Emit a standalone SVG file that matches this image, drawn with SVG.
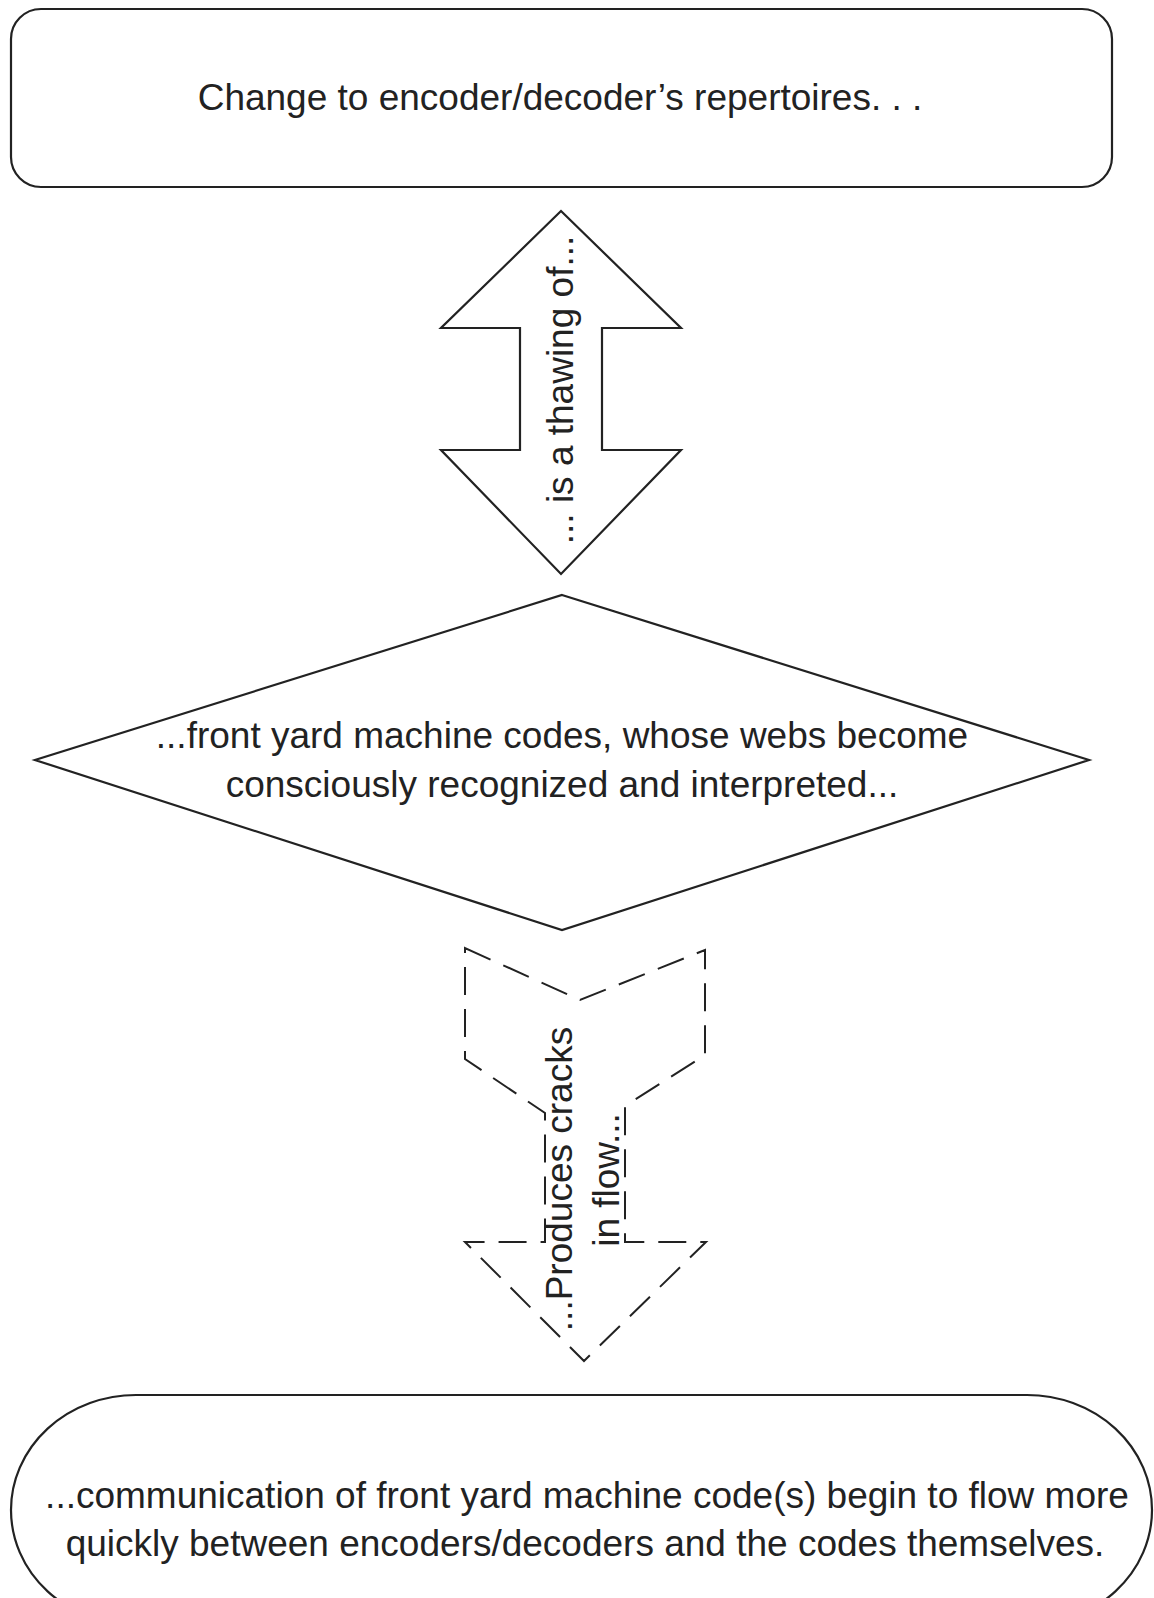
<svg xmlns="http://www.w3.org/2000/svg" width="1154" height="1598" viewBox="0 0 1154 1598">
<style>
  .shape { fill: #ffffff; stroke: #222222; stroke-width: 2.2; stroke-linejoin: miter; }
  .dashed { fill: none; stroke: #222222; stroke-width: 2; stroke-dasharray: 28 14; }
  .lbl { font-family: "Liberation Sans", Arial, sans-serif; font-size: 37px; fill: #222222; text-anchor: middle; }
</style>
<rect x="0" y="0" width="1154" height="1598" fill="#ffffff"/>

<g id="node-top">
  <rect class="shape" x="11" y="9" width="1101" height="178" rx="30" ry="30"/>
  <text class="lbl" x="560" y="110">Change to encoder/decoder’s repertoires. . .</text>
</g>

<g id="connectors">
  <g id="connector-thawing">
    <path class="shape" d="M561,211 L681,328 L602,328 L602,450 L681,450 L561,574 L441,450 L520,450 L520,328 L441,328 Z"/>
    <text class="lbl" transform="translate(573,390) rotate(-90)" x="0" y="0">... is a thawing of...</text>
  </g>
  <g id="connector-cracks">
    <path class="dashed" d="M465,948 L580,1000 L705,950 L705,1055 L625,1106 L625,1242 L706,1242 L584,1361 L465,1242 L545,1242 L545,1113 L465,1059 Z"/>
    <text class="lbl" transform="translate(572,1179) rotate(-90)" x="0" y="0">...Produces cracks</text>
    <text class="lbl" transform="translate(619,1180) rotate(-90)" x="0" y="0">in flow...</text>
  </g>
</g>

<g id="node-diamond">
  <polygon class="shape" points="562,595 1089,760 562,930 35,760"/>
  <text class="lbl" x="562" y="748">...front yard machine codes, whose webs become</text>
  <text class="lbl" x="562" y="797">consciously recognized and interpreted...</text>
</g>

<g id="node-bottom">
  <rect class="shape" x="11" y="1395" width="1141" height="230" rx="125" ry="115"/>
  <text class="lbl" x="587" y="1508">...communication of front yard machine code(s) begin to flow more</text>
  <text class="lbl" x="585" y="1556">quickly between encoders/decoders and the codes themselves.</text>
</g>
</svg>
